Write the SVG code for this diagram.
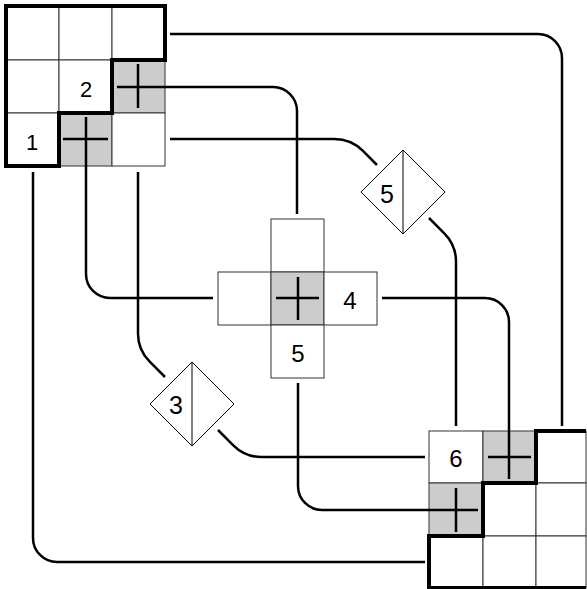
<svg xmlns="http://www.w3.org/2000/svg" width="587" height="589" viewBox="0 0 587 589">
<style>
.cell{fill:#fff;stroke:#333;stroke-width:1}
.gray{fill:#cccccc;stroke:#333;stroke-width:1}
.thick{fill:none;stroke:#000;stroke-width:4;stroke-linejoin:miter}
.mark{fill:none;stroke:#000;stroke-width:2.5}
.conn{fill:none;stroke:#000;stroke-width:2.5}
.dia{fill:#fff;stroke:#000;stroke-width:1}
.lbl{font-family:"Liberation Sans",Arial,sans-serif;fill:#000;text-anchor:middle}
</style>
<rect width="587" height="589" fill="#fff"/>
<g id="node-grid-top-left">
<rect class="cell" x="6" y="6" width="53" height="54"/>
<rect class="cell" x="59" y="6" width="53" height="54"/>
<rect class="cell" x="112" y="6" width="53" height="54"/>
<rect class="cell" x="6" y="60" width="53" height="53"/>
<rect class="cell" x="59" y="60" width="53" height="53"/>
<rect class="gray" x="112" y="60" width="53" height="53"/>
<rect class="cell" x="6" y="113" width="53" height="53"/>
<rect class="gray" x="59" y="113" width="53" height="53"/>
<rect class="cell" x="112" y="113" width="53" height="53"/>
<path class="thick" d="M6,6 H165 V60 H112 V113 H59 V166 H6 Z"/>
<path class="mark" d="M138,64 V108"/>
<path class="mark" d="M63,139 H108"/>
<text class="lbl" x="86" y="97" font-size="22">2</text>
<text class="lbl" x="32" y="150" font-size="22">1</text>
</g>
<g id="node-cross-center">
<rect class="cell" x="271" y="219" width="53" height="53"/>
<rect class="cell" x="218" y="272" width="53" height="53"/>
<rect class="gray" x="271" y="272" width="53" height="53"/>
<rect class="cell" x="324" y="272" width="53" height="53"/>
<rect class="cell" x="271" y="325" width="53" height="53"/>
<path class="mark" d="M276,298 H319 M298,277 V320"/>
<text class="lbl" x="350" y="309" font-size="24">4</text>
<text class="lbl" x="298" y="362" font-size="24">5</text>
</g>
<g id="node-diamond-5">
<polygon class="dia" points="403,150 445,192 403,234 361,192"/>
<line class="dia" x1="403" y1="150" x2="403" y2="234"/>
<text class="lbl" x="387" y="203" font-size="25">5</text>
</g>
<g id="node-diamond-3">
<polygon class="dia" points="192,362 234,404 192,446 150,404"/>
<line class="dia" x1="192" y1="362" x2="192" y2="446"/>
<text class="lbl" x="176" y="414" font-size="25">3</text>
</g>
<g id="node-grid-bottom-right">
<rect class="cell" x="429" y="431" width="54" height="52"/>
<rect class="gray" x="483" y="431" width="53" height="52"/>
<rect class="cell" x="536" y="431" width="50" height="52"/>
<rect class="gray" x="429" y="483" width="54" height="53"/>
<rect class="cell" x="483" y="483" width="53" height="53"/>
<rect class="cell" x="536" y="483" width="50" height="53"/>
<rect class="cell" x="429" y="536" width="54" height="52"/>
<rect class="cell" x="483" y="536" width="53" height="52"/>
<rect class="cell" x="536" y="536" width="50" height="52"/>
<path class="thick" d="M586,431 H536 V483 H483 V536 H429 V588 H586"/>
<path class="mark" d="M488,457 H531"/>
<path class="mark" d="M456,488 V532"/>
<text class="lbl" x="456" y="467" font-size="24">6</text>
</g>
<g id="connectors">
<path class="conn" d="M170,34 H538 A24,24 0 0 1 562,58 V426"/>
<path class="conn" d="M117,87 H273 A24,24 0 0 1 297,111 V214"/>
<path class="conn" d="M170,139 H334.4 A40,40 0 0 1 362.7,150.7 L377,165"/>
<path class="conn" d="M86,117 V274 A24,24 0 0 0 110,298 H213"/>
<path class="conn" d="M33,172 V538 A24,24 0 0 0 57,562 H425"/>
<path class="conn" d="M138,172 V333.4 A40,40 0 0 0 149.7,361.7 L165,377"/>
<path class="conn" d="M218,430 L233.3,445.3 A40,40 0 0 0 261.6,457 H425"/>
<path class="conn" d="M429,218 L444.3,233.3 A40,40 0 0 1 456,261.6 V426"/>
<path class="conn" d="M382,298 H485 A24,24 0 0 1 509,322 V479"/>
<path class="conn" d="M298,383 V486 A24,24 0 0 0 322,510 H478"/>
</g>
</svg>
